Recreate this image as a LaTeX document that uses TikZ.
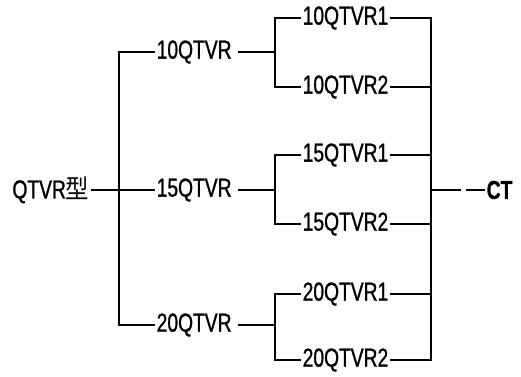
\documentclass[tikz,border=0pt]{standalone}
\usepackage{fontspec}
\setmainfont[FakeStretch=0.74,FakeBold=1]{Liberation Sans}
\newfontfamily\cjk[FakeStretch=0.9]{Noto Sans CJK SC}
\begin{document}
\begin{tikzpicture}[x=1pt,y=-1pt,
  lbl/.style={inner xsep=1.5pt,inner ysep=0pt,font=\fontsize{26}{26}\selectfont},
  wire/.style={line width=2pt}]
\useasboundingbox (0,0) rectangle (521,376);
% nodes
\node[lbl,anchor=east] (root) at (91,190) {QTVR{\cjk 型}};
\node[lbl,anchor=west] (a10) at (155,52) {10QTVR};
\node[lbl,anchor=west] (a15) at (155,190) {15QTVR};
\node[lbl,anchor=west] (a20) at (155,325) {20QTVR};
\node[lbl,anchor=west] (b10a) at (301,18) {10QTVR1};
\node[lbl,anchor=west] (b10b) at (301,87) {10QTVR2};
\node[lbl,anchor=west] (b15a) at (301,155) {15QTVR1};
\node[lbl,anchor=west] (b15b) at (301,224) {15QTVR2};
\node[lbl,anchor=west] (b20a) at (301,294) {20QTVR1};
\node[lbl,anchor=west] (b20b) at (301,360) {20QTVR2};
\node[lbl,anchor=west,font=\fontsize{26}{26}\selectfont\bfseries] (ct) at (485,190) {CT};
% junctions
\coordinate (j1) at (119,190);
\coordinate (j10) at (275,52);
\coordinate (j15) at (275,190);
\coordinate (j20) at (275,325);
\coordinate (jr) at (431,190);
\coordinate (ctend) at (461,190);
\coordinate (ctdash) at (466,190);
% connectors
\draw[wire] (root.east) -- (a15.west);
\draw[wire] (a10.west) -| (j1) |- (a20.west);
\draw[wire,shorten <=4.5pt] (a10.east) -- (j10);
\draw[wire,shorten <=4.5pt] (a15.east) -- (j15);
\draw[wire,shorten <=4.5pt] (a20.east) -- (j20);
\draw[wire] (b10a.west) -| (j10) |- (b10b.west);
\draw[wire] (b15a.west) -| (j15) |- (b15b.west);
\draw[wire] (b20a.west) -| (j20) |- (b20b.west);
\draw[wire] (b10a.east) -| (jr) |- (b20b.east);
\draw[wire] (b10b.east) -- (b10b.east -| jr);
\draw[wire] (b15a.east) -- (b15a.east -| jr);
\draw[wire] (b15b.east) -- (b15b.east -| jr);
\draw[wire] (b20a.east) -- (b20a.east -| jr);
\draw[wire] (jr) -- (ctend);
\draw[wire] (ctdash) -- (ct.west);
\end{tikzpicture}
\end{document}
